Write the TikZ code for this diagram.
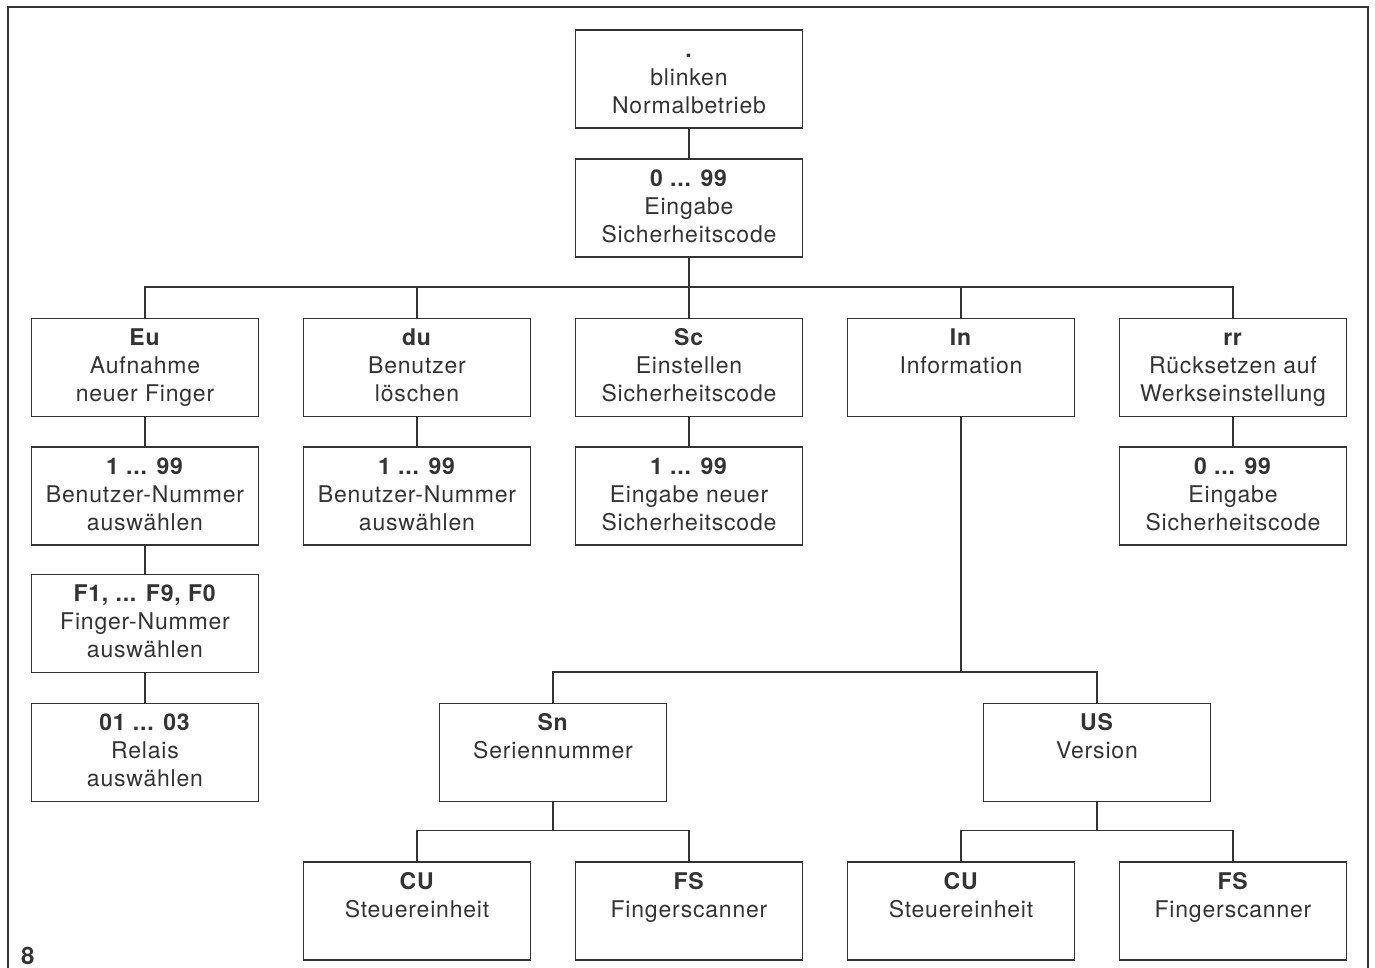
\documentclass[tikz,border=0pt]{standalone}
\usepackage{fontspec}
\setmainfont{TeX Gyre Heros}[LetterSpace=3.5]
\definecolor{ink}{HTML}{333333}
\begin{document}
\begin{tikzpicture}[x=1pt,y=-1pt,
  box/.style={draw=ink,line width=1.3pt,minimum width=227pt,minimum height=98pt,inner sep=0pt},
  txt/.style={anchor=north,inner sep=0pt,align=center,text=ink,font=\fontsize{23}{28}\selectfont},
  conn/.style={draw=ink,line width=1.3pt}]
\useasboundingbox (0,0) rectangle (1375,968);
\draw[conn] (8,968) -- (8,7) -- (1368,7) -- (1368,968);
\newcommand{\bx}[4]{%
  \node[box] (#1) at (#2,#3) {};
  \node[txt] (#1t) at ([yshift=-8pt]#1.north) {\strut #4};}
% top
\bx{nb}{689}{79}{\textbf{.}\\blinken\\Normalbetrieb}
\bx{sc0}{689}{208}{\textbf{0 ... 99}\\Eingabe\\Sicherheitscode}
% level 1
\bx{eu}{145}{367.5}{\textbf{Eu}\\Aufnahme\\neuer Finger}
\bx{du}{417}{367.5}{\textbf{du}\\Benutzer\\löschen}
\bx{sc}{689}{367.5}{\textbf{Sc}\\Einstellen\\Sicherheitscode}
\bx{in}{961}{367.5}{\textbf{In}\\Information}
\bx{rr}{1233}{367.5}{\textbf{rr}\\Rücksetzen auf\\Werkseinstellung}
% level 2
\bx{eun}{145}{496}{\textbf{1 ... 99}\\Benutzer-Nummer\\auswählen}
\bx{dun}{417}{496}{\textbf{1 ... 99}\\Benutzer-Nummer\\auswählen}
\bx{scn}{689}{496}{\textbf{1 ... 99}\\Eingabe neuer\\Sicherheitscode}
\bx{rrn}{1233}{496}{\textbf{0 ... 99}\\Eingabe\\Sicherheitscode}
% Eu chain
\bx{fn}{145}{623.5}{\textbf{F1, ... F9, F0}\\Finger-Nummer\\auswählen}
\bx{rel}{145}{752.5}{\textbf{01 ... 03}\\Relais\\auswählen}
% In children
\bx{sn}{553}{752.5}{\textbf{Sn}\\Seriennummer}
\bx{us}{1097}{752.5}{\textbf{US}\\Version}
\bx{cua}{417}{911}{\textbf{CU}\\Steuereinheit}
\bx{fsa}{689}{911}{\textbf{FS}\\Fingerscanner}
\bx{cub}{961}{911}{\textbf{CU}\\Steuereinheit}
\bx{fsb}{1233}{911}{\textbf{FS}\\Fingerscanner}
% connectors
\draw[conn] (nb.south) -- (sc0.north);
\foreach \n in {eu,du,sc,in,rr}
  \draw[conn] (\n.north) -- ++(0,-31) -| (sc0.south);
\draw[conn] (eu.south) -- (eun.north);
\draw[conn] (du.south) -- (dun.north);
\draw[conn] (sc.south) -- (scn.north);
\draw[conn] (rr.south) -- (rrn.north);
\draw[conn] (eun.south) -- (fn.north);
\draw[conn] (fn.south) -- (rel.north);
\draw[conn] (sn.north) -- ++(0,-31) -| (in.south);
\draw[conn] (us.north) -- ++(0,-31) -| (in.south);
\draw[conn] (cua.north) -- ++(0,-31) -| (sn.south);
\draw[conn] (fsa.north) -- ++(0,-31) -| (sn.south);
\draw[conn] (cub.north) -- ++(0,-31) -| (us.south);
\draw[conn] (fsb.north) -- ++(0,-31) -| (us.south);
\node[anchor=base west,inner sep=0pt,text=ink,font=\fontsize{24}{28}\selectfont\bfseries] (fig) at (21,964) {8};
\end{tikzpicture}
\end{document}
